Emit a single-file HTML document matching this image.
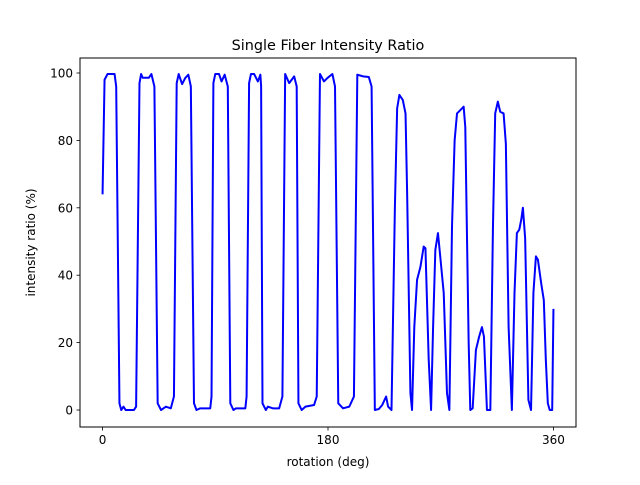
<!DOCTYPE html>
<html><head><meta charset="utf-8"><style>
body{margin:0;background:#fff}
svg text{font-family:"DejaVu Sans","Liberation Sans",sans-serif;fill:#000}
</style></head><body>
<svg id="chart" width="640" height="480" xmlns="http://www.w3.org/2000/svg">
<rect width="640" height="480" fill="#fff"/>
<text x="328" y="50" font-size="14.4" text-anchor="middle">Single Fiber Intensity Ratio</text>
<g id="plot"></g>
<rect x="80" y="58" width="496" height="369" fill="none" stroke="#000" stroke-width="1"/>
<text x="328" y="466" font-size="12" text-anchor="middle">rotation (deg)</text>
<text transform="translate(35,242.5) rotate(-90)" font-size="12" text-anchor="middle">intensity ratio (%)</text>
</svg>
<script>
const rotation=[0,1.6,4,9.6,10.9,13.5,14.9,16.7,18.5,25,26.8,29.5,30.8,32,37,39,41.4,44,46.7,50.6,54.5,57,59.2,60.8,63.5,66,68.5,70.5,73,75,78,82,86,87,88.5,90,93,95,97.5,100,102,104.5,106.5,110,114,115,117,118.5,121,124,126,126.6,127.7,130.4,132,136,141,143.6,145.8,149,153,155,156.4,159,162,168.9,171,173.6,176.8,179.5,183.5,185.6,188.2,192,197,200.7,203.4,208,212.6,214.8,217.4,220.6,223.3,226.4,228,230.7,233.4,235.2,237,239.7,241.9,243.2,245.8,247.1,248.9,251.1,253.8,256.4,257.8,260.4,262.3,263.9,265.7,267.8,269.6,272.4,275,276.9,279,281.1,283,285.7,288.3,289.6,292.3,293.6,295.5,298.1,300.7,302.9,304.5,306.9,309.6,311.7,313.5,315.6,317.5,320.2,322,324.2,326.8,328.9,330.8,332.7,334.3,335.6,337.4,340,342.1,344,346,347.6,350.2,352.3,353.9,355.5,357,359,360];
const intensity=[64,98,99.7,99.7,96,2,0,1,0,0,1,97,99.7,98.6,98.6,99.7,96,2,0,1,0.5,4,97,99.7,96.7,98.5,99.5,96,2,0,0.5,0.5,0.5,4,97,99.7,99.7,97.5,99.5,96,2,0,0.5,0.5,0.5,4,97,99.7,99.7,97.5,99.5,96,2,0,1,0.5,0.5,4,99.7,97,99,96,2,0,1,1.5,4,99.7,97.5,98.5,99.7,96,2,0.5,1,4,99.5,99,98.8,96,0,0.3,1.5,4,1,0,60,89.5,93.5,92,88,64,5,0,24.6,38.6,42.5,48.5,48,15,0,24.6,47.5,52.5,45.6,34.7,5,0,54.4,80,88,89,90,84,20,0,0.5,17.8,21.8,24.6,21.8,0,0,54.4,88,91.5,88.5,88,79,24.6,0,34.7,52.5,53.5,56.5,60,51,3,0,34.7,45.6,44.6,37.6,32.6,15,2,0,0,30];
const xTicks=[0,180,360];
const yTicks=[0,20,40,60,80,100];
const NS="http://www.w3.org/2000/svg";
const X0=80,X1=576,Y0=427,Y1=58;
const xMin=-18,xMax=378,yMin=-5.04,yMax=104.45;
const sx=v=>X0+(v-xMin)/(xMax-xMin)*(X1-X0);
const sy=v=>Y0-(v-yMin)/(yMax-yMin)*(Y0-Y1);
const g=document.getElementById('plot');
function mk(tag,attrs){const e=document.createElementNS(NS,tag);for(const k in attrs)e.setAttribute(k,attrs[k]);return e;}
xTicks.forEach(t=>{
  const l=mk('line',{x1:sx(t),x2:sx(t),y1:Y0,y2:Y0+3.5,stroke:'#000','stroke-width':0.8});
  
  
  g.appendChild(l);
  const tx=mk('text',{x:sx(t),y:Y0+17,'font-size':12,'text-anchor':'middle'});
  
  
  tx.textContent=t;g.appendChild(tx);
});
yTicks.forEach(t=>{
  const l=mk('line',{x1:X0-3.5,x2:X0,y1:sy(t),y2:sy(t),stroke:'#000','stroke-width':0.8});
  
  
  g.appendChild(l);
  const tx=mk('text',{x:X0-7,y:sy(t)+4.5,'font-size':12,'text-anchor':'end'});
  
  
  tx.textContent=t;g.appendChild(tx);
});
const d=rotation.map((r,i)=>(i?'L':'M')+sx(r).toFixed(2)+' '+sy(intensity[i]).toFixed(2)).join(' ');
const p=mk('path',{d:d,fill:'none',stroke:'#0000ff','stroke-width':2,'stroke-linejoin':'round'});


g.appendChild(p);
</script>
</body></html>
